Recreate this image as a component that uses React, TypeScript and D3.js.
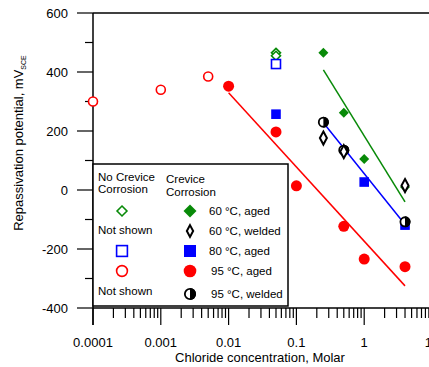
import React, { useEffect, useRef } from 'react';
import * as d3 from 'd3';

const W = 429;
const H = 367;

// 95 C, no crevice corrosion (open red circles)
const noCrev95X = [0.0001, 0.001, 0.005];
const noCrev95Y = [300, 340, 385];
// 60 C aged, no crevice (open green diamonds)
const noCrev60X = [0.05, 0.05];
const noCrev60Y = [465, 455];
// 80 C aged, no crevice (open blue square)
const noCrev80X = [0.05];
const noCrev80Y = [427];

// crevice corrosion
const aged60X = [0.25, 0.5, 1, 4];
const aged60Y = [465, 262, 105, 10];
const welded60X = [0.25, 0.5, 4];
const welded60Y = [176, 130, 15];
const aged80X = [0.05, 1, 4];
const aged80Y = [257, 27, -119];
const aged95X = [0.01, 0.05, 0.1, 0.5, 1, 4];
const aged95Y = [352, 197, 14, -123, -234, -260];
const welded95X = [0.25, 0.5, 4];
const welded95Y = [230, 135, -108];

// fit lines (end points)
const fit60X = [0.25, 4];
const fit60Y = [407, -40];
const fit80X = [0.25, 4];
const fit80Y = [228, -117];
const fit95X = [0.01, 4];
const fit95Y = [330, -325];

const xTicks = [0.0001, 0.001, 0.01, 0.1, 1, 10];
const xTickLabels = ['0.0001', '0.001', '0.01', '0.1', '1', '10'];
const yTicks = [-400, -200, 0, 200, 400, 600];
const yMinor = [-300, -100, 100, 300, 500];

const GREEN = '#088a08';
const BLUE = '#0000ff';
const RED = '#ff0000';
const FONT = 'Liberation Sans, Arial, sans-serif';

const App = () => {
  const svgRef = useRef(null);

  useEffect(() => {
    const svg = d3.select(svgRef.current);
    svg.selectAll('*').remove();

    const x = d3.scaleLog().domain([1e-4, 10]).range([93, 432]);
    const y = d3.scaleLinear().domain([-400, 600]).range([308, 13]);

    // marker drawers, k = scale factor
    const diamond = (g, cx, cy, w, h) =>
      g.append('path').attr('d', `M${cx},${cy - h}L${cx + w},${cy}L${cx},${cy + h}L${cx - w},${cy}Z`);
    const square = (g, cx, cy, s) =>
      g.append('rect').attr('x', cx - s).attr('y', cy - s).attr('width', 2 * s).attr('height', 2 * s);
    const halfCircle = (g, cx, cy, k = 1) => {
      const r = 5.5 * k;
      g.append('circle').attr('cx', cx).attr('cy', cy).attr('r', r - 0.9)
        .attr('fill', '#fff').attr('stroke', '#000').attr('stroke-width', 1.8);
      g.append('path')
        .attr('d', `M${cx},${cy - r}A${r},${r} 0 0 1 ${cx},${cy + r}Z`)
        .attr('fill', '#000');
    };
    const openDiamond = (g, cx, cy, k = 1) => diamond(g, cx, cy, 4.5 * k, 4.5 * k)
      .attr('fill', '#fff').attr('stroke', GREEN).attr('stroke-width', 1.6);
    const fillDiamond = (g, cx, cy, k = 1) => diamond(g, cx, cy, 5 * k, 5 * k).attr('fill', GREEN);
    const weldDiamond = (g, cx, cy, k = 1) => diamond(g, cx, cy, 3.5 * k, 6.5 * k)
      .attr('fill', '#fff').attr('stroke', '#000').attr('stroke-width', 2);
    const openSquare = (g, cx, cy, k = 1) => square(g, cx, cy, 4.5 * k)
      .attr('fill', '#fff').attr('stroke', BLUE).attr('stroke-width', 1.6);
    const fillSquare = (g, cx, cy, k = 1) => square(g, cx, cy, 4.8 * k).attr('fill', BLUE);
    const openCircle = (g, cx, cy, k = 1) => g.append('circle').attr('cx', cx).attr('cy', cy).attr('r', 4.5 * k)
      .attr('fill', '#fff').attr('stroke', RED).attr('stroke-width', 1.6);
    const fillCircle = (g, cx, cy, k = 1) => g.append('circle').attr('cx', cx).attr('cy', cy).attr('r', 5.5 * k)
      .attr('fill', RED);

    // frame top line
    svg.append('line').attr('x1', 93).attr('x2', W).attr('y1', y(600)).attr('y2', y(600))
      .attr('stroke', '#000').attr('stroke-width', 1.5);

    // y axis
    svg.append('line').attr('x1', 93).attr('x2', 93).attr('y1', y(600)).attr('y2', 325)
      .attr('stroke', '#000').attr('stroke-width', 1.5);
    yTicks.forEach((t) => {
      svg.append('line').attr('x1', 77).attr('x2', 93).attr('y1', y(t)).attr('y2', y(t))
        .attr('stroke', '#000').attr('stroke-width', 1.2);
      svg.append('text').attr('x', 68).attr('y', y(t) + 4.5).attr('text-anchor', 'end')
        .attr('font-family', FONT).attr('font-size', 13).text(t);
    });
    yMinor.forEach((t) => {
      svg.append('line').attr('x1', 85).attr('x2', 93).attr('y1', y(t)).attr('y2', y(t))
        .attr('stroke', '#000').attr('stroke-width', 1.2);
    });

    // x axis
    svg.append('line').attr('x1', 93).attr('x2', W).attr('y1', y(-400)).attr('y2', y(-400))
      .attr('stroke', '#000').attr('stroke-width', 1.5);
    xTicks.forEach((t, i) => {
      svg.append('line').attr('x1', x(t)).attr('x2', x(t)).attr('y1', y(-400)).attr('y2', 325)
        .attr('stroke', '#000').attr('stroke-width', 1.2);
      svg.append('text').attr('x', x(t)).attr('y', 347).attr('text-anchor', 'middle')
        .attr('font-family', FONT).attr('font-size', 13).text(xTickLabels[i]);
    });
    xTicks.slice(0, -1).forEach((t) => {
      for (let k = 2; k <= 9; k++) {
        svg.append('line').attr('x1', x(t * k)).attr('x2', x(t * k)).attr('y1', y(-400)).attr('y2', 318)
          .attr('stroke', '#000').attr('stroke-width', 1.2);
      }
    });

    // axis titles
    svg.append('text').attr('x', 260).attr('y', 362).attr('text-anchor', 'middle')
      .attr('font-family', FONT).attr('font-size', 13).text('Chloride concentration, Molar');
    const yt = svg.append('text').attr('transform', 'translate(23,143) rotate(-90)')
      .attr('text-anchor', 'middle').attr('font-family', FONT).attr('font-size', 13);
    yt.append('tspan').text('Repassivation potential, mV');
    yt.append('tspan').attr('font-size', 7).attr('dy', 3).text('SCE');

    // fit lines
    const line = d3.line().x((d) => x(d[0])).y((d) => y(d[1]));
    const fits = [
      [fit60X, fit60Y, GREEN],
      [fit80X, fit80Y, BLUE],
      [fit95X, fit95Y, RED],
    ];
    fits.forEach(([xs, ys, c]) => {
      svg.append('path').datum(d3.zip(xs, ys)).attr('d', line)
        .attr('fill', 'none').attr('stroke', c).attr('stroke-width', 1.5);
    });

    const pts = svg.append('g');
    const plot = (xs, ys, fn) => xs.forEach((v, i) => fn(pts, x(v), y(ys[i])));
    plot(noCrev95X, noCrev95Y, openCircle);
    plot(noCrev60X, noCrev60Y, openDiamond);
    plot(noCrev80X, noCrev80Y, openSquare);
    plot(aged95X, aged95Y, fillCircle);
    plot(aged80X, aged80Y, fillSquare);
    plot(aged60X, aged60Y, fillDiamond);
    plot(welded95X, welded95Y, halfCircle);
    plot(welded60X, welded60Y, weldDiamond);

    // legend
    const lg = svg.append('g');
    lg.append('rect').attr('x', 93).attr('y', 164).attr('width', 195).attr('height', 142)
      .attr('fill', '#fff').attr('stroke', '#000').attr('stroke-width', 1.5);
    const txt = (tx, ty, s) => lg.append('text').attr('x', tx).attr('y', ty)
      .attr('font-family', FONT).attr('font-size', 11.5).text(s);
    txt(98, 181, 'No Crevice');
    txt(98, 193, 'Corrosion');
    txt(166, 183, 'Crevice');
    txt(166, 196, 'Corrosion');
    const rows = [211, 231, 251, 271, 294];
    openDiamond(lg, 122, rows[0], 1.1);
    fillDiamond(lg, 190, rows[0], 1.3);
    txt(209, rows[0] + 4, '60 \u00B0C, aged');
    txt(98, rows[1] + 3, 'Not shown');
    weldDiamond(lg, 190, rows[1], 0.9);
    txt(209, rows[1] + 4, '60 \u00B0C, welded');
    openSquare(lg, 122, rows[2], 1.2);
    fillSquare(lg, 190, rows[2], 1.25);
    txt(209, rows[2] + 4, '80 \u00B0C, aged');
    openCircle(lg, 122, rows[3], 1.2);
    fillCircle(lg, 190, rows[3], 1.15);
    txt(211, rows[3] + 4, '95 \u00B0C, aged');
    txt(98, rows[4] + 1, 'Not shown');
    halfCircle(lg, 190, rows[4], 1.1);
    txt(211, rows[4] + 4, '95 \u00B0C, welded');
  }, []);

  return (
    <svg
      ref={svgRef}
      width={W}
      height={H}
      style={{ position: 'fixed', left: 0, top: 0, background: '#fff' }}
    />
  );
};

export default App;
